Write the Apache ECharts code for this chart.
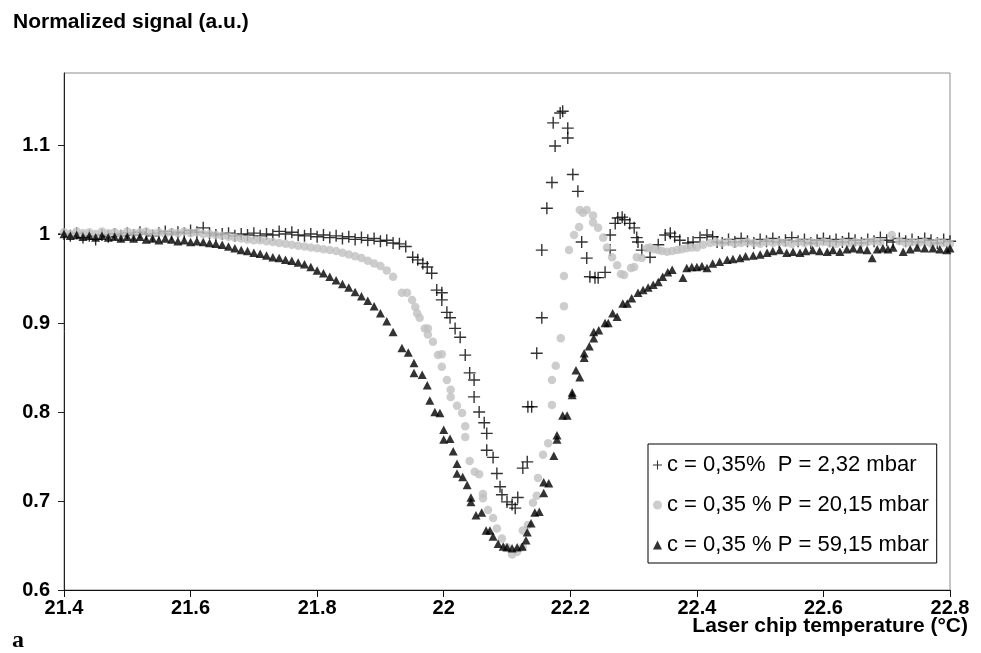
<!DOCTYPE html>
<html><head><meta charset="utf-8">
<script src="https://cdn.jsdelivr.net/npm/echarts@6/dist/echarts.min.js"></script>
<style>html,body{margin:0;padding:0;background:#fff}#c{width:981px;height:653px}</style>
</head><body><div id="c"></div>
<script>
const yTitle = 'Normalized signal (a.u.)';
const xTitle = 'Laser chip temperature (°C)';
const panelLabel = 'a';
const seriesNames = ['c = 0,35%  P = 2,32 mbar', 'c = 0,35 % P = 20,15 mbar', 'c = 0,35 % P = 59,15 mbar'];
const yTicks = [0.6, 0.7, 0.8, 0.9, 1, 1.1];

// P = 2,32 mbar (plus)
const plusLeft = [[21.40,1.000],[21.41,0.998],[21.42,1.001],[21.43,0.996],[21.44,0.998],[21.45,0.994],[21.46,0.999],[21.47,0.997],[21.48,1.000],[21.49,0.998],
[21.50,1.001],[21.51,0.999],[21.52,1.002],[21.53,1.000],[21.54,0.998],[21.55,1.001],[21.56,1.003],[21.57,1.000],[21.58,1.002],[21.59,1.001],
[21.60,1.004],[21.61,1.002],[21.62,1.007],[21.63,1.001],[21.64,0.999],[21.65,1.000],[21.66,1.001],[21.67,0.998],[21.68,1.000],[21.69,0.999],
[21.70,1.001],[21.71,0.998],[21.72,1.000],[21.73,0.999],[21.74,1.003],[21.75,1.000],[21.76,1.002],[21.77,0.999],[21.78,0.998],[21.79,1.000],
[21.80,0.997],[21.81,0.999],[21.82,0.996],[21.83,0.998],[21.84,0.995],[21.85,0.997],[21.86,0.994],[21.87,0.996],[21.88,0.993],[21.89,0.995],
[21.90,0.992],[21.91,0.993],[21.92,0.990],[21.93,0.989],[21.94,0.986]];
const plusDip = [[21.951,0.974],[21.959,0.971],[21.967,0.967],[21.974,0.963],[21.981,0.956],[21.989,0.937],[21.997,0.934],[21.997,0.926],[22.005,0.912],[22.010,0.906],
[22.018,0.894],[22.026,0.884],[22.034,0.864],[22.041,0.844],[22.048,0.836],[22.048,0.817],[22.056,0.800],[22.064,0.788],[22.068,0.776],[22.068,0.757],
[22.078,0.749],[22.084,0.731],[22.089,0.716],[22.092,0.707],[22.100,0.699],[22.108,0.696],[22.113,0.692],[22.117,0.704],[22.125,0.737],[22.132,0.744],
[22.133,0.806],[22.139,0.806],[22.147,0.866],[22.155,0.906],[22.155,0.982],[22.163,1.029],[22.171,1.058],[22.176,1.099],[22.173,1.125],[22.184,1.136],
[22.188,1.138],[22.196,1.119],[22.196,1.108],[22.204,1.067],[22.212,1.048],[22.218,0.991],[22.226,0.973],[22.231,0.952],[22.239,0.951],[22.244,0.951],
[22.255,0.957],[22.263,0.982],[22.263,0.999],[22.271,1.012],[22.275,1.018],[22.282,1.019],[22.286,1.016],[22.294,1.012],[22.301,1.007],[22.305,0.996],
[22.307,0.991],[22.313,0.982],[22.326,0.974],[22.339,0.988],[22.350,0.999],[22.358,1.001],[22.365,0.997],[22.373,0.993],[22.386,0.990],[22.394,0.991],
[22.405,0.996],[22.416,0.999],[22.425,0.997],[22.432,0.991]];
const plusRight = [[22.44,0.990],[22.45,0.994],[22.46,0.991],[22.47,0.995],[22.48,0.992],[22.49,0.990],[22.50,0.994],[22.51,0.992],[22.52,0.995],[22.53,0.991],
[22.54,0.993],[22.55,0.996],[22.56,0.992],[22.57,0.994],[22.58,0.990],[22.59,0.993],[22.60,0.995],[22.61,0.992],[22.62,0.994],[22.63,0.991],
[22.64,0.995],[22.65,0.993],[22.66,0.990],[22.67,0.994],[22.68,0.992],[22.69,0.996],[22.70,0.993],[22.71,0.991],[22.72,0.995],[22.73,0.992],
[22.74,0.994],[22.75,0.991],[22.76,0.995],[22.77,0.993],[22.78,0.990],[22.79,0.994],[22.80,0.992]];

// P = 20,15 mbar (grey circles)
const dotLeft = [[21.40,1.002],[21.41,1.000],[21.42,1.003],[21.43,1.001],[21.44,1.002],[21.45,1.000],[21.46,1.003],[21.47,1.001],[21.48,1.002],[21.49,1.000],
[21.50,1.003],[21.51,1.001],[21.52,1.002],[21.53,1.003],[21.54,1.001],[21.55,1.002],[21.56,1.000],[21.57,1.002],[21.58,1.001],[21.59,1.003],
[21.60,1.001],[21.61,1.002],[21.62,1.000],[21.63,1.000],[21.64,0.999],[21.65,0.998],[21.66,0.997],[21.67,0.996],[21.68,0.995],[21.69,0.994],
[21.70,0.993],[21.71,0.993],[21.72,0.992],[21.73,0.991],[21.74,0.990],[21.75,0.989],[21.76,0.988],[21.77,0.987],[21.78,0.986],[21.79,0.985],
[21.80,0.984],[21.81,0.983],[21.82,0.982],[21.83,0.981],[21.84,0.979],[21.85,0.977],[21.86,0.975],[21.87,0.973],[21.88,0.970],[21.89,0.967],
[21.90,0.964],[21.91,0.959],[21.92,0.952]];
const dotDip = [[21.934,0.934],[21.942,0.934],[21.950,0.926],[21.955,0.918],[21.958,0.911],[21.962,0.906],[21.970,0.894],[21.975,0.894],[21.975,0.887],[21.983,0.879],
[21.991,0.864],[21.997,0.865],[21.997,0.851],[22.005,0.836],[22.011,0.825],[22.011,0.817],[22.021,0.807],[22.029,0.799],[22.034,0.784],[22.034,0.772],
[22.041,0.745],[22.049,0.733],[22.056,0.730],[22.062,0.708],[22.062,0.703],[22.070,0.690],[22.078,0.681],[22.084,0.669],[22.092,0.658],[22.100,0.648],
[22.108,0.640],[22.116,0.643],[22.125,0.648],[22.125,0.667],[22.133,0.673],[22.141,0.698],[22.147,0.706],[22.149,0.726],[22.157,0.752],[22.165,0.765],
[22.171,0.808],[22.171,0.836],[22.177,0.852],[22.185,0.883],[22.190,0.919],[22.190,0.953],[22.198,0.982],[22.206,0.999],[22.214,1.008],[22.215,1.027],
[22.220,1.024],[22.226,1.027],[22.236,1.021],[22.236,1.013],[22.244,1.007],[22.252,0.996],[22.258,0.985],[22.266,0.974],[22.274,0.965],[22.280,0.955],
[22.285,0.954],[22.296,0.962],[22.301,0.963],[22.305,0.974],[22.313,0.973],[22.321,0.984],[22.326,0.985],[22.332,0.983],[22.339,0.982],[22.345,0.981],
[22.353,0.980],[22.361,0.981],[22.369,0.982],[22.376,0.983],[22.384,0.984],[22.392,0.985],[22.400,0.985],[22.410,0.988],[22.421,0.990]];
const dotRight = [[22.43,0.991],[22.44,0.990],[22.45,0.991],[22.46,0.989],[22.47,0.990],[22.48,0.991],[22.49,0.990],[22.50,0.989],[22.51,0.991],[22.52,0.990],
[22.53,0.991],[22.54,0.990],[22.55,0.989],[22.56,0.991],[22.57,0.990],[22.58,0.991],[22.59,0.990],[22.60,0.991],[22.61,0.990],[22.62,0.989],
[22.63,0.991],[22.64,0.990],[22.65,0.991],[22.66,0.990],[22.67,0.991],[22.68,0.992],[22.69,0.991],[22.708,0.999],[22.72,0.992],[22.73,0.990],
[22.74,0.991],[22.75,0.990],[22.76,0.991],[22.77,0.989],[22.78,0.991],[22.79,0.990],[22.80,0.989]];

// P = 59,15 mbar (triangles)
const triLeft = [[21.40,1.000],[21.41,0.998],[21.42,0.999],[21.43,0.997],[21.44,0.998],[21.45,0.996],[21.46,0.998],[21.47,0.996],[21.48,0.997],[21.49,0.995],
[21.50,0.997],[21.51,0.995],[21.52,0.997],[21.53,0.994],[21.54,0.995],[21.55,0.993],[21.56,0.995],[21.57,0.994],[21.58,0.992],[21.59,0.993],
[21.60,0.991],[21.61,0.992],[21.62,0.991],[21.63,0.990],[21.64,0.989],[21.65,0.988],[21.66,0.986],[21.67,0.984],[21.68,0.982],[21.69,0.981],
[21.70,0.979],[21.71,0.978],[21.72,0.976],[21.73,0.974],[21.74,0.973],[21.75,0.971],[21.76,0.970],[21.77,0.968],[21.78,0.966],[21.79,0.963],
[21.80,0.959],[21.81,0.956],[21.82,0.952],[21.83,0.948],[21.84,0.944],[21.85,0.940],[21.86,0.935],[21.87,0.930],[21.88,0.925],[21.89,0.919],
[21.90,0.911],[21.91,0.902],[21.92,0.890]];
const triDip = [[21.934,0.872],[21.944,0.867],[21.953,0.855],[21.953,0.844],[21.966,0.842],[21.974,0.830],[21.978,0.813],[21.986,0.800],[21.994,0.799],[22.000,0.780],
[22.000,0.769],[22.010,0.770],[22.015,0.756],[22.021,0.742],[22.021,0.731],[22.030,0.727],[22.037,0.718],[22.043,0.704],[22.043,0.699],[22.051,0.684],
[22.060,0.687],[22.067,0.667],[22.073,0.667],[22.078,0.660],[22.086,0.652],[22.094,0.649],[22.100,0.648],[22.108,0.647],[22.116,0.648],[22.124,0.649],
[22.130,0.656],[22.132,0.665],[22.138,0.675],[22.144,0.687],[22.151,0.688],[22.158,0.709],[22.158,0.721],[22.166,0.720],[22.174,0.751],[22.179,0.769],
[22.179,0.774],[22.188,0.796],[22.195,0.796],[22.203,0.819],[22.203,0.822],[22.209,0.847],[22.215,0.839],[22.222,0.861],[22.222,0.866],[22.230,0.874],
[22.237,0.883],[22.237,0.890],[22.245,0.892],[22.255,0.900],[22.260,0.900],[22.267,0.911],[22.274,0.907],[22.283,0.922],[22.290,0.922],[22.297,0.928]];
const triRight = [[22.307,0.934],[22.315,0.937],[22.323,0.940],[22.331,0.943],[22.339,0.946],[22.346,0.952],[22.354,0.957],[22.361,0.960],[22.378,0.951],[22.384,0.962],
[22.392,0.963],[22.400,0.963],[22.408,0.964],[22.416,0.962],[22.425,0.967],[22.436,0.969],[22.448,0.971],[22.457,0.972],[22.468,0.973],[22.477,0.975],
[22.489,0.976],[22.500,0.977],[22.511,0.979],[22.520,0.981],[22.531,0.982],[22.542,0.979],[22.552,0.980],[22.563,0.979],[22.572,0.981],[22.583,0.982],
[22.594,0.981],[22.606,0.980],[22.615,0.982],[22.626,0.980],[22.637,0.983],[22.647,0.984],[22.658,0.983],[22.669,0.982],[22.677,0.973],[22.685,0.983],
[22.694,0.984],[22.702,0.983],[22.710,0.985],[22.726,0.980],[22.737,0.983],[22.748,0.985],[22.760,0.984],[22.773,0.984],[22.784,0.983],[22.795,0.982],[22.800,0.984]];

const plusPath = 'path://M0,5.3H12V6.7H0Z M5.3,0H6.7V12H5.3Z';
const font = 'Liberation Sans, Arial, sans-serif';

const chart = echarts.init(document.getElementById('c'), null, {renderer: 'canvas'});
chart.setOption({
  animation: false,
  backgroundColor: '#fff',
  title: [
    {text: yTitle, left: 13, top: 12, padding: 0,
     textStyle: {fontFamily: font, fontWeight: 'bold', fontSize: 21, color: '#000'}},
    {text: xTitle, right: 13, top: 616, padding: 0,
     textStyle: {fontFamily: font, fontWeight: 'bold', fontSize: 21, color: '#000'}},
    {text: panelLabel, left: 12, top: 629, padding: 0,
     textStyle: {fontFamily: 'Liberation Serif, Times New Roman, serif', fontWeight: 'bold', fontSize: 24, color: '#000'}}
  ],
  grid: {left: 64, right: 31, top: 73, bottom: 63, show: true, borderColor: '#8c8c8c', borderWidth: 1, backgroundColor: 'transparent'},
  legend: {
    orient: 'vertical', left: 648, top: 444,
    padding: [10, 8, 7, 5], itemGap: 18, itemWidth: 9, itemHeight: 9,
    borderColor: '#000', borderWidth: 1, backgroundColor: '#fff',
    textStyle: {fontFamily: font, fontSize: 22, color: '#000'},
    data: [
      {name: seriesNames[0], icon: plusPath, itemStyle: {color: '#000'}},
      {name: seriesNames[1], icon: 'circle', itemStyle: {color: '#c0c0c0'}},
      {name: seriesNames[2], icon: 'triangle', itemStyle: {color: '#000'}}
    ]
  },
  xAxis: {
    type: 'value', min: 21.4, max: 22.8, interval: 0.2,
    axisLine: {show: true, lineStyle: {color: '#111', width: 1}},
    axisTick: {show: true, inside: false, length: 7, lineStyle: {color: '#111'}},
    splitLine: {show: false},
    axisLabel: {margin: 8, fontFamily: font, fontWeight: 'bold', fontSize: 20, color: '#000'}
  },
  yAxis: {
    type: 'value', min: 0.6, max: 1.181, interval: 0.1,
    axisLine: {show: true, lineStyle: {color: '#222', width: 1}},
    axisTick: {show: true, inside: false, length: 6, customValues: yTicks, lineStyle: {color: '#222'}},
    splitLine: {show: false},
    axisLabel: {margin: 14, customValues: yTicks, fontFamily: font, fontWeight: 'bold', fontSize: 20, color: '#000'}
  },
  series: [
    {name: seriesNames[0], type: 'scatter', symbol: plusPath, symbolSize: 12,
     itemStyle: {color: '#000'}, data: plusLeft.concat(plusDip, plusRight), z: 2},
    {name: seriesNames[1], type: 'scatter', symbol: 'circle', symbolSize: 8.5,
     itemStyle: {color: '#c0c0c0'}, data: dotLeft.concat(dotDip, dotRight), z: 3},
    {name: seriesNames[2], type: 'scatter', symbol: 'triangle', symbolSize: [9, 8.5],
     itemStyle: {color: '#000'}, data: triLeft.concat(triDip, triRight), z: 4}
  ]
});
</script></body></html>
